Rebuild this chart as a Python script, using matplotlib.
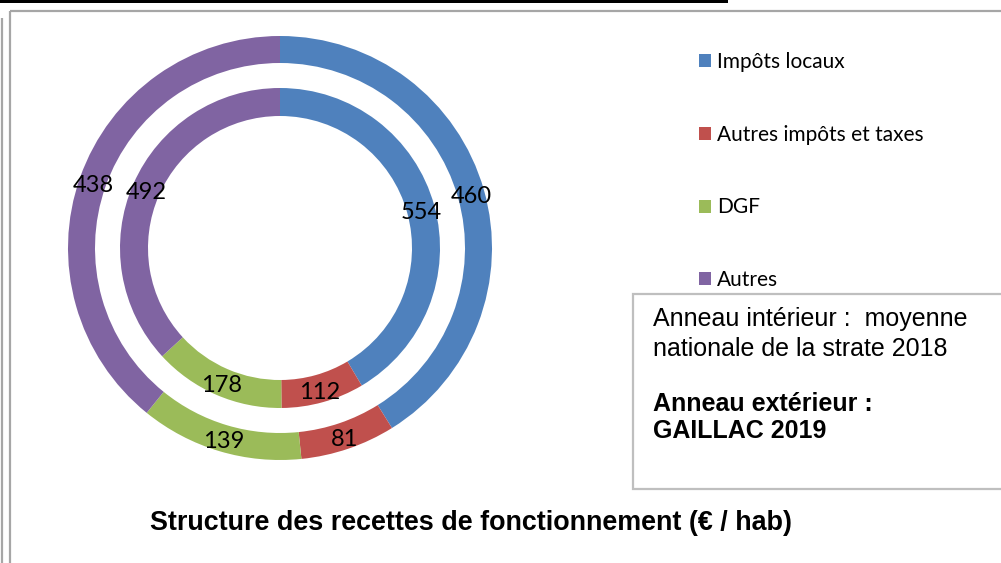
import matplotlib
matplotlib.use("Agg")
import matplotlib.pyplot as plt
from matplotlib.patches import Rectangle, Patch
import numpy as np

categories = ["Impôts locaux", "Autres impôts et taxes", "DGF", "Autres"]
outer_values = [460, 81, 139, 438]   # GAILLAC 2019
inner_values = [554, 112, 178, 492]  # moyenne nationale de la strate 2018
colors = ["#4F81BD", "#C0504D", "#9BBB59", "#8064A2"]
title = "Structure des recettes de fonctionnement (€ / hab)"
note_lines = ["Anneau intérieur :  moyenne", "nationale de la strate 2018",
              "Anneau extérieur :", "GAILLAC 2019"]

W, H = 1001, 563
fig = plt.figure(figsize=(W / 100, H / 100), dpi=100)
ax = fig.add_axes([0, 0, 1, 1])

cx, cy = 280, H - 248
R_out, w_out = 212, 27
R_in, w_in = 160, 28

label_font = ["Lato", "DejaVu Sans"]

def ring(values, radius, width):
    wedges, _ = ax.pie(values, colors=colors, startangle=90, counterclock=False,
                       radius=radius, center=(cx, cy),
                       wedgeprops=dict(width=width, edgecolor="none"))
    rmid = radius - width / 2
    for wdg, v in zip(wedges, values):
        ang = np.deg2rad((wdg.theta1 + wdg.theta2) / 2)
        ax.text(cx + rmid * np.cos(ang), cy + rmid * np.sin(ang) - 1.5, str(v),
                ha="center", va="center_baseline", fontsize=17, family=label_font,
                color="black")
    return wedges

outer_wedges = ring(outer_values, R_out, w_out)
ring(inner_values, R_in, w_in)

ax.set_xlim(0, W)
ax.set_ylim(0, H)
ax.set_aspect("auto")
ax.axis("off")

# frames
gray = "#A6A6A6"
ax.add_patch(Rectangle((0, H - 3), 728, 3, facecolor="black", edgecolor="none"))
ax.plot([10, W], [H - 10.5, H - 10.5], color=gray, lw=1.6, solid_capstyle="butt")
ax.plot([10, 10], [H - 10.5, 0], color=gray, lw=1.6, solid_capstyle="butt")
ax.plot([1.5, 1.5], [H - 18, 0], color=gray, lw=1.6, solid_capstyle="butt")

# legend
handles = [Patch(facecolor=c, edgecolor="none") for c in colors]
fs = 15
fpx = fs * 100 / 72
leg = ax.legend(handles, categories, loc="upper left",
                bbox_to_anchor=(699 / W, 1 - 52 / H), bbox_transform=fig.transFigure,
                frameon=False, prop=dict(family=label_font, size=fs),
                handlelength=12 / fpx, handleheight=12 / fpx,
                handletextpad=6 / fpx, labelspacing=2.53, borderpad=0,
                borderaxespad=0)

# note box
ax.add_patch(Rectangle((633, H - 489), 400, 195, facecolor="white",
                       edgecolor="#BFBFBF", lw=1.6, zorder=3))
note_font = ["Liberation Sans", "DejaVu Sans"]
baselines = [326, 356, 411, 438]
for i, (line, b) in enumerate(zip(note_lines, baselines)):
    ax.text(653, H - b, line, ha="left", va="baseline", fontsize=18,
            family=note_font, fontweight="bold" if i >= 2 else "normal",
            color="black", zorder=4)

fig.text(471 / W, 1 - 530 / H, title, ha="center", va="baseline", fontsize=19.4,
         family=["Liberation Sans", "DejaVu Sans"], fontweight="bold")

fig.savefig("out.png", dpi=100, facecolor="white")
